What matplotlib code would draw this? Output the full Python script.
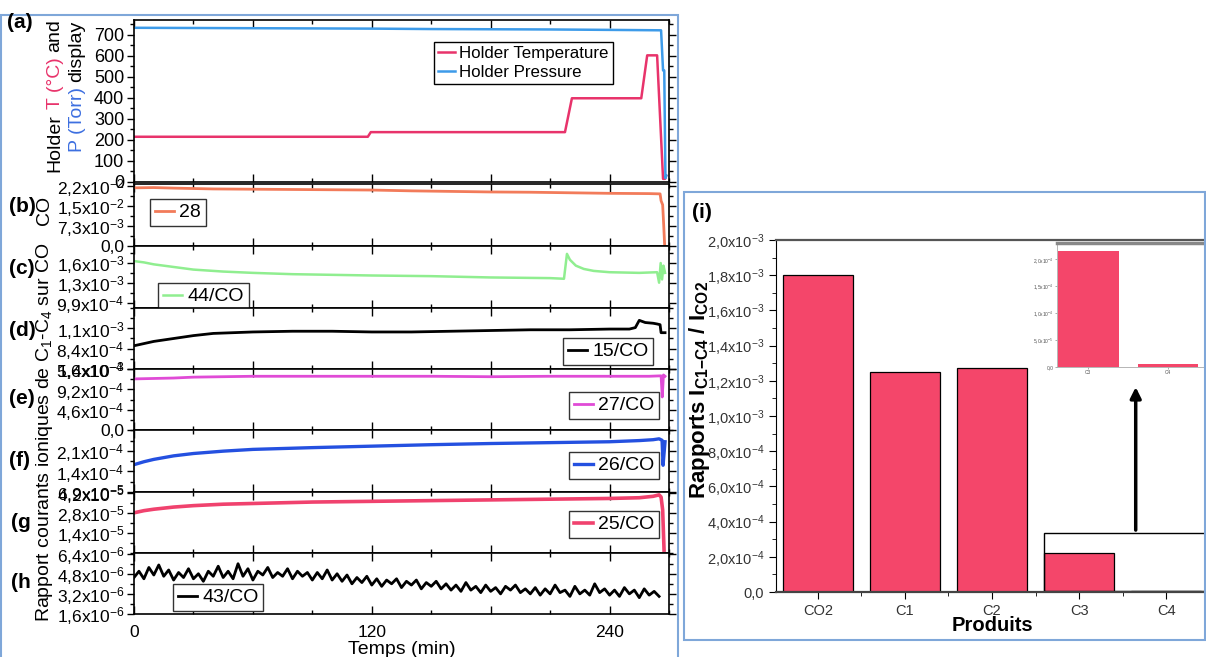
import numpy as np
import matplotlib
matplotlib.use('Agg')
import matplotlib.pyplot as plt
from matplotlib.ticker import MultipleLocator, FixedLocator, FuncFormatter
from matplotlib.patches import Rectangle

plt.rcParams['font.family'] = ['Liberation Sans', 'DejaVu Sans']
plt.rcParams['mathtext.fontset'] = 'custom'
plt.rcParams['mathtext.rm'] = 'Liberation Sans'
plt.rcParams['mathtext.it'] = 'Liberation Sans:italic'
plt.rcParams['mathtext.bf'] = 'Liberation Sans:bold'

# ---- data (a) holder temperature / pressure ----
temp_t = [0, 118, 119.5, 217.5, 221, 256, 259, 264, 267, 268, 268.6]
temp_v = [215, 215, 237, 237, 398, 398, 602, 602, 15, 15, 30]
press_t = [0, 30, 60, 90, 120, 150, 180, 210, 240, 266, 267, 267.6, 268.2, 268.6]
press_v = [733, 732, 731, 730, 729, 727, 726, 725, 723, 721, 530, 530, 18, 30]

# ---- (b) CO, m/z 28 ----
co_t = [0, 10, 20, 40, 60, 80, 100, 120, 140, 160, 180, 200, 220, 240, 260, 265.5, 266, 266.8, 267.3, 267.8]
co_v = [0.0212, 0.0213, 0.0211, 0.0208, 0.0207, 0.0206, 0.0205, 0.0204, 0.0201, 0.0199,
        0.0197, 0.0196, 0.0194, 0.0192, 0.0191, 0.0190, 0.0165, 0.0150, 0.0080, 0.0003]

# ---- (c) 44/CO ----
c_t = [0, 5, 10, 20, 30, 45, 60, 80, 100, 120, 150, 180, 210, 217, 218.5, 220, 223, 227,
       232, 240, 255, 264, 265, 265.8, 266.5, 267.2, 268]
c_v = [1.63e-3, 1.61e-3, 1.58e-3, 1.54e-3, 1.50e-3, 1.47e-3, 1.45e-3, 1.43e-3, 1.42e-3,
       1.41e-3, 1.40e-3, 1.38e-3, 1.37e-3, 1.36e-3, 1.74e-3, 1.65e-3, 1.56e-3, 1.51e-3,
       1.48e-3, 1.46e-3, 1.45e-3, 1.46e-3, 1.30e-3, 1.60e-3, 1.35e-3, 1.56e-3, 1.45e-3]

# ---- (d) 15/CO ----
d_t = [0, 5, 10, 20, 30, 40, 50, 60, 80, 100, 120, 140, 160, 180, 200, 220, 240, 250, 253,
       255, 258, 262, 264, 265.5, 266, 268]
d_v = [8.8e-4, 9.1e-4, 9.4e-4, 9.8e-4, 1.02e-3, 1.05e-3, 1.06e-3, 1.07e-3, 1.08e-3, 1.08e-3,
       1.07e-3, 1.07e-3, 1.08e-3, 1.09e-3, 1.10e-3, 1.10e-3, 1.11e-3, 1.11e-3, 1.13e-3,
       1.23e-3, 1.20e-3, 1.19e-3, 1.18e-3, 1.17e-3, 1.06e-3, 1.06e-3]

# ---- (e) 27/CO ----
e_t = [0, 10, 20, 30, 45, 60, 90, 120, 150, 180, 210, 240, 260, 266, 266.6, 267.2, 268]
e_v = [1.16e-3, 1.17e-3, 1.18e-3, 1.20e-3, 1.21e-3, 1.22e-3, 1.22e-3, 1.22e-3, 1.22e-3,
       1.21e-3, 1.22e-3, 1.22e-3, 1.22e-3, 1.23e-3, 7.5e-4, 1.25e-3, 1.22e-3]

# ---- (f) 26/CO ----
f_t = [0, 5, 10, 20, 30, 45, 60, 90, 120, 150, 180, 210, 240, 255, 262, 265, 266.5, 267, 268]
f_v = [1.62e-4, 1.72e-4, 1.80e-4, 1.92e-4, 2.00e-4, 2.08e-4, 2.14e-4, 2.20e-4, 2.25e-4,
       2.30e-4, 2.34e-4, 2.37e-4, 2.40e-4, 2.44e-4, 2.47e-4, 2.50e-4, 2.45e-4, 1.60e-4, 2.40e-4]

# ---- (g) 25/CO ----
g_t = [0, 5, 10, 20, 30, 45, 60, 90, 120, 150, 180, 210, 240, 255, 262, 265, 266, 266.8, 267.5]
g_v = [2.8e-5, 2.95e-5, 3.05e-5, 3.2e-5, 3.3e-5, 3.4e-5, 3.45e-5, 3.55e-5, 3.6e-5, 3.65e-5,
       3.7e-5, 3.75e-5, 3.8e-5, 3.85e-5, 3.95e-5, 4.05e-5, 3.9e-5, 3.0e-5, 0.2e-5]

# ---- (h) 43/CO (noisy trace, read every 2.5 min, x1e-6) ----
h_t = np.arange(0, 265.1, 2.5)
h_v = np.array([
    4.5, 5.0, 4.4, 5.3, 4.7, 5.5, 4.6, 5.1, 4.3, 4.9, 4.5, 5.2, 4.4, 4.8, 4.2, 5.0, 4.6, 5.4,
    4.5, 5.0, 4.4, 5.6, 4.6, 5.2, 4.3, 5.0, 4.7, 5.3, 4.5, 4.9, 4.6, 5.2, 4.4, 5.0, 4.6, 4.9,
    4.3,
    4.9, 4.4, 5.1, 4.3, 4.8, 4.2, 4.7, 4.0, 4.5, 4.1, 4.6, 3.9, 4.4, 3.8, 4.3, 4.0, 4.4, 3.7,
    4.2, 3.9, 4.3, 3.6, 4.1, 3.8,
    4.2, 3.6, 4.0, 3.5, 3.9, 3.4, 4.1, 3.5, 3.8, 3.3, 3.9, 3.4, 3.7, 3.2, 3.8, 3.5, 3.9, 3.3,
    3.6, 3.2,
    3.7, 3.1, 3.6, 3.2, 3.9, 3.3, 3.5, 3.0, 3.8, 3.2, 3.5, 3.1, 4.0, 3.3, 3.6, 3.1, 3.5, 3.0,
    3.7, 3.2, 3.5, 2.9, 3.6, 3.1, 3.4, 3.0]) * 1e-6

# tick values shown on each panel
b_ticks = [0, 0.0073, 0.0146, 0.0219]
c_ticks = [9.9e-4, 1.295e-3, 1.6e-3]
d_ticks = [5.6e-4, 8.4e-4, 1.12e-3]
e_ticks = [0, 4.6e-4, 9.2e-4, 1.38e-3]
f_ticks = [6.9e-5, 1.39e-4, 2.09e-4]
g_ticks = [1.4e-5, 2.8e-5, 4.2e-5]
h_ticks = [1.6e-6, 3.2e-6, 4.8e-6, 6.4e-6]

# ---- (i) bar chart ----
bar_cats = ['CO2', 'C1', 'C2', 'C3', 'C4']
bar_vals = [1.80e-3, 1.25e-3, 1.27e-3, 2.2e-4, 5e-6]
inset_cats = ['C3', 'C4']
inset_vals = [2.15e-4, 5e-6]

W, H = 1206, 657
fig = plt.figure(figsize=(W / 100, H / 100), dpi=100)


def px_axes(x0, y0, x1, y1):
    return fig.add_axes([x0 / W, 1 - y1 / H, (x1 - x0) / W, (y1 - y0) / H])


def sci(v, pos=None):
    if abs(v) < 1e-12:
        return '0,0'
    e = int(np.floor(np.log10(abs(v))))
    m = v / 10 ** e
    return ('%.1f' % m).replace('.', ',') + r'x10$^{%d}$' % e


def style_left(ax, ticks, ylim, fmt=sci, minor=None):
    ax.set_xlim(0, 270)
    ax.set_ylim(*ylim)
    ax.xaxis.set_major_locator(MultipleLocator(60))
    ax.xaxis.set_minor_locator(MultipleLocator(30))
    ax.tick_params(axis='x', which='both', direction='in', top=True, bottom=True,
                   labelbottom=False)
    ax.tick_params(axis='x', which='major', length=6, width=1)
    ax.tick_params(axis='x', which='minor', length=3, width=1)
    ax.yaxis.set_major_locator(FixedLocator(ticks))
    if minor is None:
        step = ticks[1] - ticks[0]
        minor = np.arange(ticks[0] - 2 * step, ticks[-1] + 2 * step, step / 2)
    ax.yaxis.set_minor_locator(FixedLocator(minor))
    ax.yaxis.set_major_formatter(FuncFormatter(fmt))
    ax.tick_params(axis='y', which='both', direction='out', left=True, right=True,
                   labelsize=12.5, pad=2)
    ax.tick_params(axis='y', which='major', length=5, width=1)
    ax.tick_params(axis='y', which='minor', length=3, width=1)
    for s in ax.spines.values():
        s.set_linewidth(1.2)


def add_leg(ax, x0, y0, size, edge='black'):
    leg = ax.legend(loc='upper left', bbox_to_anchor=(x0 / W, 1 - y0 / H),
                    bbox_transform=fig.transFigure, fontsize=size, frameon=True,
                    fancybox=False, edgecolor=edge, framealpha=1, borderpad=0.25,
                    handlelength=1.0, handletextpad=0.25, borderaxespad=0, labelspacing=0.2)
    leg.get_frame().set_linewidth(1.0)
    return leg


# ---------- left stack ----------
axa = px_axes(134, 20, 669, 182)
axa.plot(temp_t, temp_v, color='#e8336b', lw=1.8, label='Holder Temperature')
axa.plot(press_t, press_v, color='#3d9be9', lw=1.8, label='Holder Pressure')
style_left(axa, list(range(0, 701, 100)), (0, 770), fmt=lambda v, p: '%d' % v,
           minor=np.arange(0, 770, 50))
axa.tick_params(axis='y', labelsize=13)
add_leg(axa, 434, 42, 12.2)

panels = [
    (184, 246, co_t, co_v, '#f27b5a', '28', b_ticks, (0, 0.0226), (150, 199)),
    (246, 308, c_t, c_v, '#90ee90', '44/CO', c_ticks, (9.14e-4, 1.86e-3), (158, 283)),
    (308, 369, d_t, d_v, 'black', '15/CO', d_ticks, (5.6e-4, 1.4e-3), (563, 338)),
    (369, 430, e_t, e_v, '#e04bd6', '27/CO', e_ticks, (0, 1.385e-3), (569, 392)),
    (430, 492, f_t, f_v, '#2450e0', '26/CO', f_ticks, (6.9e-5, 2.8e-4), (569, 452)),
    (492, 553, g_t, g_v, '#f0426e', '25/CO', g_ticks, (0, 4.25e-5), (569, 511)),
    (553, 614, h_t, h_v, 'black', '43/CO', h_ticks, (1.6e-6, 6.45e-6), (173, 584)),
]
lw_map = {'28': 2.0, '44/CO': 1.8, '15/CO': 2.0, '27/CO': 2.0, '26/CO': 2.4,
          '25/CO': 2.6, '43/CO': 2.0}
axes = []
for y0, y1, t, v, col, lab, ticks, ylim, lpos in panels:
    ax = px_axes(134, y0, 669, y1)
    ax.plot(t, v, color=col, lw=lw_map[lab], label=lab)
    style_left(ax, ticks, ylim)
    add_leg(ax, lpos[0], lpos[1], 14, edge='#333333')
    axes.append(ax)

axh = axes[-1]
axh.xaxis.set_major_formatter(FuncFormatter(lambda v, p: '%d' % v if v % 120 == 0 else ''))
axh.tick_params(axis='x', labelbottom=True, labelsize=12.5, pad=8)
axh.set_xlabel('Temps (min)', fontsize=14, labelpad=1)

# panel letters
for lab, x, y in [('(a)', 7, 23), ('(b)', 9, 207), ('(c)', 9, 269), ('(d)', 9, 331),
                  ('(e)', 9, 398), ('(f)', 9, 461), ('(g', 11, 522), ('(h', 11, 583)]:
    fig.text(x / W, 1 - y / H, lab, fontsize=15, fontweight='bold', va='center', ha='left')

fig.text(45 / W, 1 - 210 / H, 'CO', rotation=90, fontsize=14, ha='center', va='center')
fig.text(45 / W, 1 - 432 / H, r'Rapport courants ioniques de C$_1$-C$_4$ sur CO',
         rotation=90, fontsize=14, ha='center', va='center')

# two-colour y label of panel (a)
renderer = fig.canvas.get_renderer()


def vpieces(x, y_start, pieces, size):
    y = y_start
    gap = size * 0.278 * 100 / 72
    for s, col in pieces:
        t = fig.text(x / W, 1 - y / H, s, rotation=90, rotation_mode='anchor',
                     ha='left', va='center', color=col, fontsize=size)
        y -= t.get_window_extent(renderer).height + gap


vpieces(55, 172, [('Holder', 'black'), ('T (°C)', '#e8336b'), ('and', 'black')], 14)
vpieces(77, 152, [('P (Torr)', '#3d6fe0'), ('display', 'black')], 14)

# ---------- right panel (i) ----------
axi = px_axes(776, 240, 1208, 592)
axi.bar(range(len(bar_cats)), bar_vals, width=0.8, color='#f4466a', edgecolor='black',
        linewidth=0.9)
axi.set_xlim(-0.48, 4.48)
axi.set_ylim(0, 2e-3)
axi.set_xticks(range(len(bar_cats)))
axi.set_xticklabels(bar_cats)
axi.xaxis.set_minor_locator(FixedLocator(np.arange(-0.5, 5, 1.0)))
axi.yaxis.set_major_locator(MultipleLocator(2e-4))
axi.yaxis.set_minor_locator(MultipleLocator(1e-4))
axi.yaxis.set_major_formatter(FuncFormatter(sci))
axi.tick_params(axis='both', which='both', direction='out', labelsize=10.5,
                labelcolor='#333333')
axi.tick_params(axis='both', which='major', length=5)
axi.tick_params(axis='both', which='minor', length=3)
axi.spines['right'].set_visible(False)
axi.spines['top'].set_color('#555555')
axi.spines['top'].set_linewidth(1.6)
axi.spines['bottom'].set_color('#444444')
axi.spines['bottom'].set_linewidth(1.6)
axi.set_xlabel('Produits', fontsize=14.5, fontweight='bold', labelpad=-1)
fig.text(699 / W, 1 - 390 / H, r'Rapports I$_{\mathbf{C1{-}C4}}$ / I$_{\mathbf{CO2}}$',
         rotation=90, fontsize=16, fontweight='bold', ha='center', va='center')
fig.text(692 / W, 1 - 212 / H, '(i)', fontsize=15, fontweight='bold', va='center')

axi.add_patch(Rectangle((2.6, 0.6e-5), 2.2, 3.3e-4, fill=False, edgecolor='black', lw=1.0,
                        clip_on=False))
axi.annotate('', xy=(3.65, 1.18e-3), xytext=(3.65, 3.36e-4),
             arrowprops=dict(arrowstyle='-|>', color='black', lw=2.5, mutation_scale=16))

# inset
axn = px_axes(1057, 243, 1210, 367)
axn.bar(range(len(inset_cats)), inset_vals, width=0.76, color='#f4466a')
axn.set_xlim(-0.39, 1.525)
axn.set_ylim(0, 2.3e-4)
axn.set_xticks(range(len(inset_cats)))
axn.set_xticklabels(inset_cats)
axn.yaxis.set_major_locator(MultipleLocator(5e-5))
axn.yaxis.set_major_formatter(FuncFormatter(sci))
axn.tick_params(axis='both', labelsize=3.5, length=1.5, width=0.5, pad=1,
                labelcolor='#555555', color='#888888')
axn.spines['right'].set_visible(False)
axn.spines['top'].set_color('#888888')
axn.spines['top'].set_linewidth(2.5)
for s in ('left', 'bottom'):
    axn.spines[s].set_color('#aaaaaa')
    axn.spines[s].set_linewidth(0.6)

# blue frames around the two figures
for x0, y0, x1, y1 in [(1, 15, 678, 662), (684, 192, 1205, 640)]:
    fig.add_artist(Rectangle((x0 / W, 1 - y1 / H), (x1 - x0) / W, (y1 - y0) / H,
                             transform=fig.transFigure, fill=False, edgecolor='#7fa7d9',
                             lw=1.5))

fig.savefig('out.png', dpi=100)
